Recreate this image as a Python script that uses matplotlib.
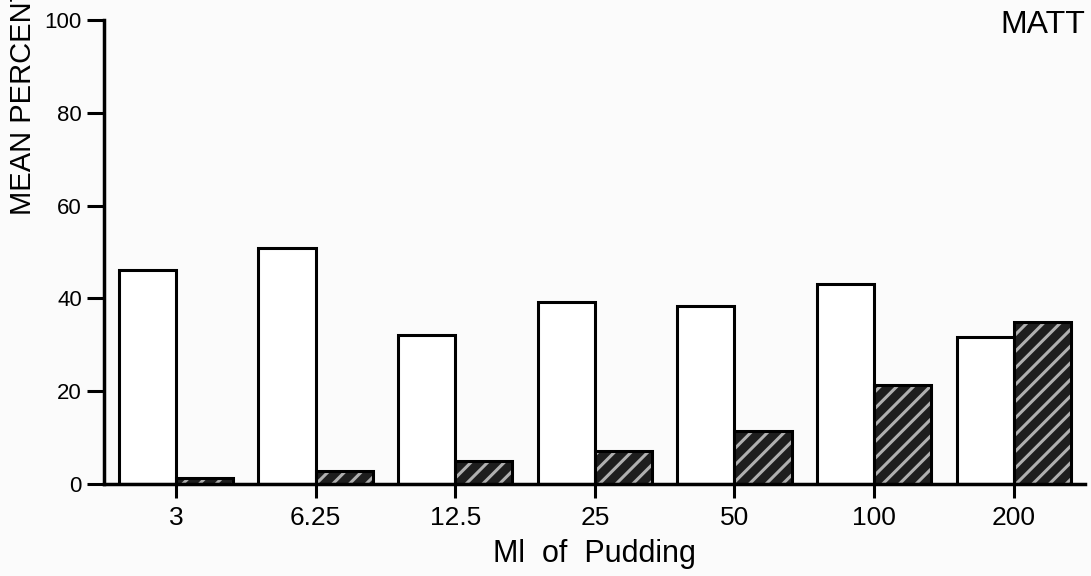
import matplotlib.pyplot as plt
import numpy as np

plt.rcParams['font.family'] = ['Liberation Sans', 'DejaVu Sans']

doses = ['3', '6.25', '12.5', '25', '50', '100', '200']
plain_vals = [46.1, 50.9, 32.1, 39.2, 38.4, 43.2, 31.7]
hatched_vals = [1.3, 2.8, 5.0, 7.1, 11.4, 21.3, 34.9]

bg = '#fbfbfb'
fig = plt.figure(figsize=(10.91, 5.76), dpi=100, facecolor=bg)
ax = fig.add_axes([0.0953, 0.1597, 0.8992, 0.8056])
ax.set_facecolor(bg)

x = np.arange(len(doses))
w = 0.41

# open bars to the left of each tick
ax.bar(x - w / 2, plain_vals, width=w, facecolor='white', edgecolor='black', linewidth=2.2)

# hatched bars to the right: dark fill, grey stripes, then a black outline
plt.rcParams['hatch.linewidth'] = 2.2
ax.bar(x + w / 2, hatched_vals, width=w, facecolor='#1e1e1e', edgecolor='#b0b0b0',
       hatch='//', linewidth=0)
ax.bar(x + w / 2, hatched_vals, width=w, facecolor='none', edgecolor='black', linewidth=2.2)

ax.set_xlim(-0.515, 6.51)
ax.set_ylim(0, 100)
ax.set_xticks(x)
ax.set_xticklabels(doses)
ax.set_yticks([0, 20, 40, 60, 80, 100])

for s in ['top', 'right']:
    ax.spines[s].set_visible(False)
for s in ['left', 'bottom']:
    ax.spines[s].set_linewidth(2.5)

ax.tick_params(axis='y', direction='out', length=12, width=2.2, labelsize=16, pad=4)
ax.tick_params(axis='x', direction='out', length=10, width=2.2, labelsize=19, pad=6)

ax.set_xlabel('Ml  of  Pudding', fontsize=22, labelpad=6)
fig.text(0.021, 0.627, 'MEAN PERCENT', rotation=90, ha='center', va='bottom', fontsize=21)
fig.text(0.995, 0.930, 'MATT', ha='right', va='bottom', fontsize=23)

fig.savefig('out.png', dpi=100, facecolor=bg)
